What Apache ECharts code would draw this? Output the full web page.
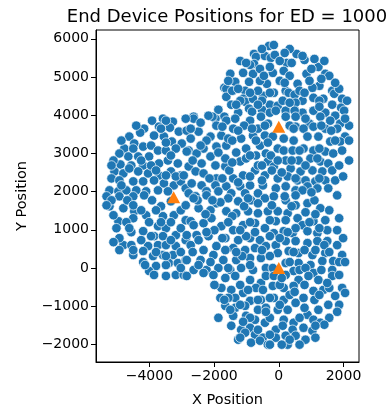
<!DOCTYPE html>
<html><head><meta charset="utf-8">
<script src="https://cdn.jsdelivr.net/npm/echarts@6/dist/echarts.min.js"></script>
<style>html,body{margin:0;padding:0;background:#fff}#c{width:389px;height:410px}</style>
</head><body><div id="c"></div>
<script>
// Chart text
const titleText = 'End Device Positions for ED = 1000';
const xName = 'X Position';
const yName = 'Y Position';
const xTicks = [-4000, -2000, 0, 2000];
const yTicks = [-2000, -1000, 0, 1000, 2000, 3000, 4000, 5000, 6000];

// Base stations (triangles)
const baseStations = [[0, 3700], [-3250, 1850], [0, 0]];

// End devices, grouped by region
const edTop = [
[-306,5811],[-765,5603],[-704,5525],[-428,5551],[-245,5499],[-765,5342],[-887,5316],[-1102,5108],[-796,5082],[-1499,5082],
[-1346,4873],[-918,4873],[-367,4821],[-1683,4717],[-1622,4691],[-1040,4639],[-1622,4482],[-1102,4430],[-1040,4352],[-796,4430],
[-490,4508],[-275,4274],[-1469,4274],[-1867,4143],[-918,4170],[-826,4091],[-520,4143],[-275,4065],[-1683,3961],[-2632,3961],
[-153,5837],[-122,5577],[245,5368],[551,5603],[796,5446],[734,5551],[1224,5264],[1438,5082],[1561,5030],[857,5082],
[-184,5108],[153,5160],[581,4821],[1255,4769],[1040,4717],[1652,4639],[1714,4561],[1958,4430],[214,4639],[306,4587],
[490,4534],[-153,4587],[1071,4456],[1377,4430],[734,4378],[520,4326],[1652,4274],[1928,4196],[-31,4248],[214,4117],
[1071,4117],[1438,4065],[734,4065],
[-1193,5420],[-581,5212],[-1438,4639],[-643,4639],[-1255,4065],[-520,4378],[31,4899],[337,5030],[949,4899],[1255,4378],
[1867,4691],[2020,4117],[643,4639],[31,5420],[337,5733],[1102,5472],[1744,4847],[-581,4899],[-275,5264],[122,4378],
[490,4117],[1408,5420],[-1193,4378],[-1958,3909],
[-1561,4899],[-1255,4691],[-887,4587],[-1316,4274],[-2050,3961],[-643,4274],[-459,5030],[-1010,5368],[-520,5733],[184,5629],
[398,5368],[1010,5212],[1316,4951],[796,4587],[337,4326],[-92,4117],[1255,4222],[1744,3987],[2111,4378],[2172,3727],
[949,3779],[184,4847],[-275,4587]
];
const edLeft = [
[-3917,3857],[-3580,3909],[-3274,3831],[-3703,3700],[-4162,3648],[-3366,3674],[-3091,3570],[-3856,3466],[-3550,3440],[-3305,3310],
[-2999,3258],[-4621,3440],[-4468,3258],[-4192,3179],[-4774,3127],[-3947,3205],[-3733,3075],[-3488,3075],[-3182,3127],[-4345,2919],
[-4009,2919],[-4651,2919],[-4927,2997],[-4559,2684],[-4896,2710],[-4192,2684],[-3703,2736],[-3427,2814],[-3121,2736],[-5080,2528],
[-4804,2476],[-4345,2528],[-4039,2476],[-3703,2424],[-3335,2528],[-3029,2424],[-5171,2345],[-4927,2293],[-4498,2267],[-4192,2267],
[-3856,2293],[-3550,2215],[-3244,2163],[-3029,2267],[-5233,2033],[-4957,2007],[-4712,2033],[-4406,2033],[-4100,2007],[-3733,2033],
[-3427,2007],
[-5324,1876],[-4927,1876],[-4498,1876],[-4162,1902],[-3641,1616],[-3335,1746],[-5233,1616],[-4804,1564],[-4468,1485],[-4100,1381],
[-3580,1355],[-3244,1381],[-3029,1511],[-4957,1225],[-4498,1303],[-5018,1042],[-4192,964],[-3733,1095],[-3488,1042],[-3182,860],
[-3856,834],[-3580,834],[-4804,599],[-4559,599],[-4039,573],[-3733,599],[-3488,599],[-3182,573],[-4498,339],[-4192,443],
[-3886,313],[-3580,339],[-3274,339],[-3794,52],[-3397,130],[-3121,130],[-4009,-78],[-3856,-182],[-3488,-208],[-3182,-182],
[-2938,-182],
[-3488,3857],[-4284,3544],[-2846,3596],[-5110,2814],[-4498,3127],[-3335,2945],[-3947,2684],[-4621,2606],[-3488,2424],[-2785,3075],
[-2877,2085],[-3917,1772],[-4682,1772],[-5171,1772],[-4253,1511],[-3794,1511],[-2877,1642],[-4712,1199],[-4009,1199],[-3335,1199],
[-2877,1251],[-4559,938],[-4927,782],[-4253,730],[-2877,730],[-3335,730],[-3794,417],[-3029,417],[-4192,156],[-3488,78],
[-2877,208],[-4927,469],
[-4406,3727],[-3641,3648],[-4865,3336],[-3488,3283],[-5171,2684],[-4253,2814],[-3794,2554],[-4865,2163],[-3182,2397],[-5324,1642],
[-4498,1642],[-5110,1381],[-3641,1199],[-3029,1042],[-4621,1042],[-5110,677],[-3947,834],[-4498,469],[-3488,313],[-4131,78],
[-3029,0]
];
const edMiddle = [
[-2632,3909],[-2173,3987],[-1928,3727],[-1622,3857],[-1408,3648],[-887,3857],[-551,3961],[-337,3779],[-2479,3570],[-2723,3388],
[-2111,3440],[-1775,3466],[-1163,3388],[-796,3466],[-428,3466],[-2326,3127],[-1928,3179],[-1622,3205],[-2540,2997],[-2846,3049],
[-704,2945],[-398,2997],[-2785,2658],[-2386,2736],[-1958,2684],[-1652,2658],[-1193,2788],[-1010,2867],[-337,2788],[-2570,2528],
[-2326,2476],[-1928,2345],[-1408,2345],[-1102,2424],[-734,2554],[-428,2424],[-2693,2215],[-2386,2163],[-1958,2163],[-1622,2137],
[-1193,2137],[-887,2163],[-490,2163],[-2785,1955],[-2234,2007],[-1867,2007],[-1469,1955],[-1040,1955],[-643,1955],
[214,3961],[520,3961],[826,3909],[1285,3961],[1591,3857],[1897,3779],[2050,3909],[520,3700],[765,3648],[1071,3700],
[1438,3648],[1805,3648],[2050,3440],[-184,3440],[153,3388],[459,3336],[887,3440],[1224,3440],[1591,3310],[1897,3310],
[-31,3127],[153,3075],[428,3075],[765,3127],[1071,3075],[1438,3049],[1683,2997],[-245,2945],[214,2814],[612,2814],
[979,2867],[1285,2788],[1530,2736],[-153,2658],[367,2606],[673,2528],[1040,2554],[1346,2528],[1652,2554],[-31,2345],
[275,2397],[581,2293],[826,2293],[1132,2267],[1438,2293],[-92,2085],[214,2137],[520,2033],[887,2137],[1193,2085],
[1530,2085],
[-2570,1876],[-2234,1902],[-1928,1694],[-1561,1824],[-1255,1746],[-857,1772],[-428,1824],[-2479,1564],[-2111,1511],[-1622,1485],
[-1316,1433],[-949,1485],[-643,1433],[-337,1485],[-2723,1225],[-2632,1121],[-2326,1173],[-2081,1303],[-1775,1095],[-1408,990],
[-1102,1121],[-734,1173],[-428,1042],[-2846,860],[-2540,860],[-2173,834],[-1652,782],[-1255,730],[-887,782],[-581,730],
[-2723,599],[-2326,469],[-1928,573],[-1408,521],[-1040,469],[-734,521],[-398,573],[-2846,208],[-2417,208],[-2020,339],
[-1714,208],[-1316,208],[-887,261],[-551,261],[-2632,-52],[-2234,-52],[-1867,0],[-1499,-52],[-1163,0],[-796,-52],
[-398,0],
[-153,1876],[214,1772],[520,1642],[887,1694],[1285,1564],[-31,1485],[275,1433],[-92,1225],[214,1251],[581,1303],
[734,1121],[1071,1225],[1438,1251],[-153,912],[153,964],[428,912],[887,964],[1193,912],[1499,990],[-92,599],
[214,704],[520,704],[887,652],[1193,704],[1499,704],[-31,391],[306,443],[612,391],[1040,339],[1438,391],
[1958,339],[214,130],[612,130],[979,78],[1346,182],[1683,182],[-184,0],[459,-78],[1071,-130],[1652,-52],
[-2417,3805],[-1346,3909],[-1071,3727],[-643,3648],[-2723,3648],[-1561,3388],[-2234,3336],[-1010,3127],[-581,3205],[-1316,3023],
[-2111,2919],[-1652,2867],[-643,2684],[-1530,2554],[-2938,2424],[-2142,2345],[-887,2397],[-214,2554],[-2509,1772],[-1805,1720],
[-1071,1616],[-643,1694],[-1438,1355],[-2264,1407],[-887,1199],[-275,1251],[-1989,990],[-2479,730],[-1010,834],[-275,834],
[-1652,469],[-2111,156],[-1132,313],[-275,313],
[337,3727],[1316,3727],[1744,3336],[643,3075],[1255,3127],[1958,3075],[-31,2814],[826,2684],[1867,2684],[92,2502],
[1255,2345],[1744,2293],[734,2033],[184,1876],
[520,1902],[1102,1772],[1561,1511],[826,1459],[1255,1042],[1805,990],[520,1042],[31,782],[1805,599],[796,469],
[1408,599],[337,156],[1867,156],[1316,-52],[643,-52],
[-2877,3909],[-1744,3700],[-826,3648],[-428,3727],[-1255,3596],[-2417,3205],[-1438,3336],[-704,3336],[-337,3283],
[-1867,3023],[-887,2945],[-2662,2814],[-1438,2762],[-520,2684],[-1744,2345],[-1255,2241],[-520,2293],[-2632,1824],[-949,1824],
[-2050,1772],[-214,1642],[-1561,1199],[-1193,990],[-2234,938],[-734,938],[-1744,782],[-2662,417],[-1316,417],[-520,469],
[-2479,78],[-887,78],[-1561,0],
[459,3648],[1622,3596],[2172,3336],[1193,2867],[398,2814],[2172,2814],[520,2345],[1989,2397],[1010,1981],[1805,1902],
[398,1616],[1132,1407],[1867,1303],[949,1199],[275,938],[1989,782],[1132,469],[459,417],[1561,417],[2050,156],
[826,0]
];
const edBottom = [
[-2846,-208],[-2326,-130],[-2020,-182],[-1652,-261],[-1346,-208],[-887,-313],[-551,-391],[-398,-208],[-1775,-521],[-1469,-573],
[-1102,-652],[-704,-521],[-490,-573],[-1805,-782],[-1346,-782],[-887,-860],[-551,-834],[-1652,-990],[-1346,-1042],[-1040,-990],
[-643,-1094],[-398,-1042],[-1408,-1251],[-1010,-1251],[-734,-1355],[-428,-1433],[-1469,-1511],[-1163,-1616],[-887,-1564],[-1040,-1694],
[-734,-1746],[-490,-1824],[-857,-1954],[-581,-1902],
[-153,-208],[214,-182],[612,-313],[918,-208],[1224,-313],[1652,-208],[1958,-521],[-184,-469],[153,-521],[459,-469],
[765,-782],[1071,-599],[1377,-573],[1744,-730],[1530,-964],[1224,-1094],[-153,-782],[153,-834],[520,-912],[-31,-1094],
[275,-1094],[887,-1225],[1071,-1355],[1285,-1433],[153,-1355],[459,-1433],[-92,-1616],[122,-1511],[428,-1616],[765,-1564],
[1040,-1642],[-92,-1824],[214,-1772],[520,-1772],[826,-1876],[275,-2006],
[1867,-182],[31,-443],[796,-443],[1561,-521],[337,-704],[1102,-834],[1867,-964],[-275,-1303],[643,-1303],[1561,-1303],
[337,-1876],[1132,-1824],[-337,-2006],
[-1193,-443],[-1561,-782],[-275,-782],[-887,-1303],[-1255,-1876],[-275,-1746],[-1867,-1303],[-643,-834],[-1499,-1094],
[92,-261],[1499,-391],[490,-625],[1255,-704],[2050,-652],[31,-964],[796,-1042],[1805,-1146],[1408,-1485],[643,-2006],
[1132,-1511],[92,-2006],
[-1989,-443],[-1683,-834],[-949,-573],[-1193,-964],[-398,-1146],[-1102,-1407],[-643,-1616],[-1193,-1824],[-275,-2006]
];

const FONT = 'DejaVu Sans';
const minus = v => String(v).replace('-', '\u2212');
const edData = [].concat(edTop, edLeft, edMiddle, edBottom);

const chart = echarts.init(document.getElementById('c'), null, {renderer: 'canvas'});
chart.setOption({
  animation: false,
  backgroundColor: '#fff',
  title: {
    text: titleText, left: 222, top: 3, textAlign: 'center',
    textStyle: {fontFamily: FONT, fontSize: 18, fontWeight: 'normal', color: '#000'}
  },
  grid: {left: 96, right: 30, top: 30, bottom: 48, show: true, borderColor: '#000', borderWidth: 1,
         backgroundColor: 'transparent', containLabel: false, outerBoundsMode: 'none'},
  xAxis: {
    type: 'value', min: -5650, max: 2480,
    name: xName, nameLocation: 'middle', nameGap: 31,
    nameTextStyle: {fontFamily: FONT, fontSize: 14.5, color: '#000'},
    axisLine: {show: true, onZero: false, lineStyle: {color: '#000', width: 1}},
    axisTick: {show: true, length: 5, lineStyle: {color: '#000'}, customValues: xTicks},
    axisLabel: {fontFamily: FONT, fontSize: 14, color: '#000', margin: 7, customValues: xTicks, formatter: minus},
    splitLine: {show: false}
  },
  yAxis: {
    type: 'value', min: -2460, max: 6230,
    name: yName, nameLocation: 'middle', nameGap: 66, nameRotate: 90,
    nameTextStyle: {fontFamily: FONT, fontSize: 14.5, color: '#000'},
    axisLine: {show: true, onZero: false, lineStyle: {color: '#000', width: 1}},
    axisTick: {show: true, length: 5, lineStyle: {color: '#000'}, customValues: yTicks},
    axisLabel: {fontFamily: FONT, fontSize: 14, color: '#000', margin: 7, customValues: yTicks, formatter: minus},
    splitLine: {show: false}
  },
  series: [
    {type: 'scatter', data: edData, symbol: 'circle', symbolSize: 9.5,
     itemStyle: {color: '#1f77b4', borderColor: '#fff', borderWidth: 0.7, opacity: 1}, z: 2},
    {type: 'scatter', data: baseStations, symbol: 'triangle', symbolSize: [13, 12],
     itemStyle: {color: '#ff7f0e', opacity: 1}, z: 3}
  ]
});
</script></body></html>
